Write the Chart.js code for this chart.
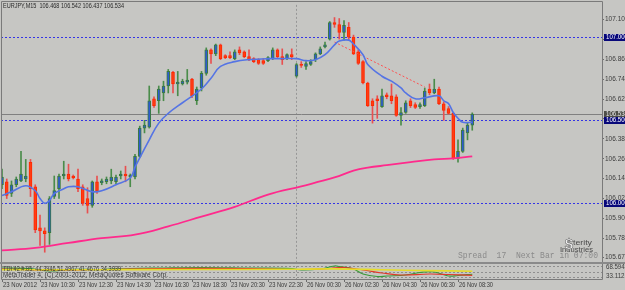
<!DOCTYPE html>
<html><head><meta charset="utf-8">
<script src="https://cdn.jsdelivr.net/npm/chart.js@4.4.1/dist/chart.umd.min.js"></script>
<style>
html,body{margin:0;padding:0;background:#c6c6c3;width:625px;height:290px;overflow:hidden;}
#w{position:relative;width:625px;height:290px;}
#c1{position:absolute;left:0;top:0;}
#c2{position:absolute;left:0;top:262px;}
</style></head><body><div id="w"><canvas id="c1" width="625" height="264"></canvas><canvas id="c2" width="625" height="28"></canvas></div>
<script>
// ---------- DATA ----------
const symbolTitle = 'EURJPY,M15  106.468 106.542 106.437 106.534';
const opens = [106.108,106.126,106.055,106.108,106.131,106.143,106.244,106.096,105.848,105.830,
105.819,106.037,106.084,106.161,106.173,106.161,106.143,106.096,106.025,105.984,
106.126,106.120,106.126,106.131,106.126,106.161,106.173,106.155,106.155,106.279,
106.450,106.456,106.627,106.615,106.662,106.704,106.786,106.716,106.716,106.727,
106.745,106.615,106.692,106.780,106.922,106.898,106.952,106.887,106.887,106.869,
106.922,106.910,106.881,106.869,106.863,106.857,106.857,106.869,106.922,106.881,
106.869,106.893,106.763,106.834,106.822,106.834,106.863,106.898,106.940,106.987,
107.087,107.075,107.028,107.058,106.999,106.910,106.851,106.722,106.615,106.627,
106.580,106.651,106.645,106.639,106.527,106.544,106.615,106.592,106.580,106.586,
106.686,106.662,106.686,106.597,106.568,106.539,106.267,106.309,106.421,106.468];
const highs = [106.202,106.143,106.131,106.155,106.309,106.261,106.261,106.108,105.925,105.848,
106.037,106.161,106.173,106.250,106.232,106.167,106.202,106.108,106.090,106.131,
106.161,106.143,106.155,106.202,106.167,106.191,106.220,106.173,106.291,106.462,
106.497,106.704,106.639,106.704,106.733,106.804,106.792,106.792,106.745,106.804,
106.751,106.698,106.792,106.934,106.928,106.957,106.957,106.893,106.910,106.922,
106.940,106.916,106.922,106.875,106.869,106.869,106.881,106.934,106.928,106.928,
106.898,106.928,106.840,106.851,106.851,106.863,106.904,106.940,106.969,107.093,
107.117,107.111,107.099,107.087,107.011,106.922,106.857,106.727,106.627,106.645,
106.686,106.662,106.716,106.651,106.574,106.615,106.627,106.603,106.603,106.692,
106.716,106.745,106.698,106.609,106.580,106.544,106.379,106.450,106.480,106.542];
const lows = [106.084,106.025,106.037,106.096,106.126,106.126,106.037,105.819,105.742,105.701,
105.748,106.025,106.025,106.143,106.131,106.143,106.067,105.984,105.937,105.972,
106.055,106.108,106.114,106.114,106.114,106.143,106.126,106.096,106.143,106.273,
106.421,106.450,106.574,106.539,106.615,106.662,106.662,106.645,106.710,106.716,
106.633,106.592,106.674,106.769,106.840,106.887,106.863,106.869,106.869,106.863,
106.893,106.875,106.857,106.845,106.834,106.834,106.851,106.863,106.875,106.834,
106.863,106.863,106.757,106.816,106.804,106.828,106.851,106.893,106.934,106.981,
107.058,106.987,106.981,106.981,106.893,106.834,106.716,106.580,106.480,106.509,
106.574,106.627,106.597,106.521,106.468,106.539,106.574,106.568,106.568,106.580,
106.651,106.657,106.592,106.497,106.533,106.261,106.244,106.303,106.379,106.437];
const closes = [106.155,106.043,106.108,106.143,106.173,106.161,106.084,105.836,105.830,105.813,
106.025,106.073,106.161,106.173,106.143,106.149,106.084,105.996,105.984,106.126,
106.073,106.131,106.143,106.155,106.155,106.173,106.161,106.167,106.279,106.450,
106.468,106.615,106.586,106.686,106.704,106.792,106.716,106.727,106.733,106.739,
106.645,106.686,106.780,106.922,106.898,106.952,106.869,106.875,106.875,106.910,
106.904,106.881,106.863,106.851,106.840,106.840,106.875,106.922,106.881,106.863,
106.893,106.881,106.834,106.828,106.840,106.851,106.898,106.928,106.952,107.087,
107.075,107.028,107.070,106.999,106.898,106.840,106.722,106.586,106.586,106.615,
106.645,106.639,106.615,106.527,106.544,106.603,106.586,106.574,106.592,106.674,
106.662,106.686,106.597,106.556,106.539,106.267,106.309,106.438,106.468,106.534];

const fastMaBars   = [0,2,5,7,8,9,10,11,13,14,16,19,21,24,27,28,31,33,35,38,42,44,46,49,52,56,59,62,64,66,68,70,71,73,74,76,77,80,82,84,85,87,89,92,93,94,95,96,97,99];
const fastMaValues = [106.043,106.066,106.102,106.072,106.025,105.996,106.013,106.055,106.084,106.096,106.096,106.066,106.072,106.108,106.149,106.214,106.379,106.480,106.539,106.603,106.686,106.751,106.822,106.851,106.863,106.869,106.869,106.869,106.857,106.863,106.893,106.952,106.975,106.981,106.957,106.893,106.834,106.763,106.733,106.692,106.662,106.627,106.633,106.645,106.615,106.598,106.544,106.509,106.485,106.485];
const slowMaBars   = [0,7,14,21,28,35,42,49,56,63,70,74,77,81,86,91,95,99];
const slowMaValues = [105.712,105.727,105.757,105.786,105.807,105.857,105.916,105.975,106.049,106.099,106.152,106.193,106.211,106.226,106.244,106.261,106.267,106.279];
const trendBars   = [70,89];
const trendValues = [106.969,106.698];

const priceTicks = [107.105,106.985,106.865,106.745,106.625,106.505,106.385,106.265,106.145,106.025,105.905,105.785,105.670];
const levelLines = [107.000,106.500,106.000];
const bidPrice = 106.534;
const daySeparatorBar = 62;

const timeTickBars   = [0,8,16,24,32,40,48,56,64,72,80,88,96];
const timeTickLabels = ['23 Nov 2012','23 Nov 10:30','23 Nov 12:30','23 Nov 14:30','23 Nov 16:30','23 Nov 18:30','23 Nov 20:30','23 Nov 22:30','26 Nov 00:30','26 Nov 02:30','26 Nov 04:30','26 Nov 06:30','26 Nov 08:30'];

const tdiBaseBars   = [0,20,40,60,70,80,90,99];
const tdiBaseValues = [55,55,55.5,56,57,55,53,51.5];
const tdiPriceBars   = [0,6,10,14,21,27,33,42,52,61,63,67,70,71,74,76,79,81,85,88,91,94,96,99];
const tdiPriceValues = [59.1,57.5,52,55.6,55.6,58,59.1,60.3,59.1,58,54.4,56.8,63.9,62.7,56.8,44.9,39,40.2,42.6,48.5,49.7,40.2,41.4,44.4];
const tdiSignalBars   = [0,10,21,33,52,63,69,72,76,80,84,90,94,99];
const tdiSignalValues = [56.8,54.4,55.6,58,58,55.6,58,60.3,54.4,47.3,42.6,44.9,43.7,41.5];
const tdiLevels = [63,50,37];
const subScaleMax = 68.5943, subScaleMin = 33.1121;
const tdiTitle = 'TDI 42 #.85: 44.3946 51.4967 41.4676 34.3939';
const copyrightText = 'MetaTrader 4, (C) 2001-2012, MetaQuotes Software Corp.';
const spreadText = 'Spread  17  Next Bar in 07:00';

// ---------- STYLE / LAYOUT ----------
const X_MIN = -1/4.75, X_MAX = 600/4.75;
const Y_MIN = 105.6594, Y_MAX = 107.1934;
const FONT = 'Liberation Sans';
const bullBody='#2f5ad0', bullEdge='#3b7d3b', bullWick='#4a8c4a';
const bearBody='#ff3c14', bearEdge='#ff2a00', bearWick='#e85050';
const frameColor = '#7a7a7a';

function fitText(ctx, text, x, y, width, font, color) {
  ctx.save();
  ctx.font = font; ctx.fillStyle = color; ctx.textBaseline = 'middle'; ctx.textAlign = 'left';
  const w = ctx.measureText(text).width;
  const s = width ? width / w : 1;
  ctx.translate(x, y); ctx.scale(s, 1);
  ctx.fillText(text, 0, 0);
  ctx.restore();
}
const pts = (bars, vals) => bars.map((b, k) => ({x: b, y: vals[k]}));
const idx = opens.map((_, i) => i);
const bull = idx.map(i => closes[i] >= opens[i]);

const mainDecor = {
  id: 'mainDecor',
  beforeDatasetsDraw(chart) {
    const {ctx, chartArea: a, scales: {x, y}} = chart;
    ctx.save();
    ctx.lineWidth = 1;
    ctx.strokeStyle = '#3434e6'; ctx.setLineDash([2, 2]);
    levelLines.forEach(v => {
      const py = Math.round(y.getPixelForValue(v)) + 0.5;
      ctx.beginPath(); ctx.moveTo(a.left, py); ctx.lineTo(a.right, py); ctx.stroke();
    });
    ctx.strokeStyle = '#979797';
    const sx = Math.round(x.getPixelForValue(daySeparatorBar)) - 0.5;
    ctx.beginPath(); ctx.moveTo(sx, a.top); ctx.lineTo(sx, chart.height); ctx.stroke();
    ctx.setLineDash([]);
    ctx.strokeStyle = '#808080';
    const by = Math.round(y.getPixelForValue(bidPrice)) + 0.5;
    ctx.beginPath(); ctx.moveTo(a.left, by); ctx.lineTo(a.right, by); ctx.stroke();
    ctx.restore();
  },
  afterDraw(chart) {
    const {ctx, chartArea: a, scales: {y}} = chart;
    ctx.save();
    ctx.strokeStyle = frameColor; ctx.lineWidth = 1;
    ctx.beginPath();
    ctx.moveTo(1.5, chart.height); ctx.lineTo(1.5, 1.5); ctx.lineTo(a.right + 0.5, 1.5); ctx.lineTo(a.right + 0.5, chart.height);
    ctx.stroke();
    fitText(ctx, symbolTitle, 3, 6.5, 121, `7px ${FONT}`, '#2a2a2a');
    fitText(ctx, spreadText, 458, 256, 140, '9px Liberation Mono', '#8a8a8a');
    // logo
    fitText(ctx, 'terity', 573, 243.5, 19, `6.5px ${FONT}`, '#4a4a4a');
    fitText(ctx, 'Industries', 560, 250, 33, `6.5px ${FONT}`, '#4a4a4a');
    ctx.font = `bold 15px ${FONT}`; ctx.fillStyle = '#f4f4f4'; ctx.strokeStyle = '#6a6a6a'; ctx.lineWidth = 0.6;
    ctx.textAlign = 'center'; ctx.textBaseline = 'middle';
    ctx.fillText('$', 569, 245); ctx.strokeText('$', 569, 245);
    // price boxes
    const boxes = [
      {v: levelLines[0], bg: '#08087a', fg: '#ffffff'},
      {v: bidPrice, bg: '#4e4e48', fg: '#e8e8e8'},
      {v: levelLines[1], bg: '#08087a', fg: '#ffffff'},
      {v: levelLines[2], bg: '#08087a', fg: '#ffffff'}
    ];
    boxes.forEach(b => {
      const py = y.getPixelForValue(b.v);
      ctx.fillStyle = b.bg;
      ctx.fillRect(a.right + 2, Math.round(py) - 3, 625 - a.right - 2, 7);
      fitText(ctx, b.v.toFixed(3), a.right + 4, Math.round(py) + 0.5, 22, `6.5px ${FONT}`, b.fg);
    });
    ctx.restore();
  }
};

new Chart(document.getElementById('c1'), {
  type: 'bar',
  data: {
    datasets: [
      {type: 'line', data: pts(fastMaBars, fastMaValues), borderColor: '#5574e4', borderWidth: 1.6, pointRadius: 0, tension: 0.4, order: 0},
      {type: 'line', data: pts(trendBars, trendValues), borderColor: '#ff5050', borderWidth: 1, borderDash: [2, 2], pointRadius: 0, order: 0},
      {type: 'line', data: pts(slowMaBars, slowMaValues), borderColor: '#ff2a8c', borderWidth: 1.8, pointRadius: 0, tension: 0.4, order: 1},
      {type: 'bar', data: idx.map(i => ({x: i, y: [lows[i], highs[i]]})), backgroundColor: idx.map(i => bull[i] ? bullWick : bearWick), barThickness: 1, grouped: false, order: 4},
      {type: 'bar', data: idx.map(i => ({x: i, y: [opens[i], closes[i]]})), backgroundColor: idx.map(i => bull[i] ? bullBody : bearBody), borderColor: idx.map(i => bull[i] ? bullEdge : bearEdge), borderWidth: 1, borderSkipped: false, barThickness: 3, minBarLength: 1, grouped: false, order: 3}
    ]
  },
  options: {
    responsive: false, animation: false, devicePixelRatio: 1, events: [],
    layout: {padding: {left: 1, top: 2, right: 0, bottom: 2}},
    plugins: {legend: {display: false}, tooltip: {enabled: false}},
    scales: {
      x: {type: 'linear', min: X_MIN, max: X_MAX, offset: false, display: false},
      y: {type: 'linear', position: 'right', min: Y_MIN, max: Y_MAX,
        afterFit(s) { s.width = 23; },
        afterBuildTicks(s) { s.ticks = priceTicks.map(v => ({value: v})); },
        grid: {drawOnChartArea: false, drawTicks: true, tickLength: 2, color: '#6a6a6a'},
        border: {display: false},
        ticks: {autoSkip: false, padding: 1, font: {family: FONT, size: 6.5}, color: '#3c3c3c', callback: v => Number(v).toFixed(3)}
      }
    }
  },
  plugins: [mainDecor]
});

const subDecor = {
  id: 'subDecor',
  beforeDatasetsDraw(chart) {
    const {ctx, chartArea: a, scales: {x, y}} = chart;
    ctx.save();
    ctx.lineWidth = 1; ctx.strokeStyle = '#8e8e8e'; ctx.setLineDash([2, 2]);
    tdiLevels.forEach(v => {
      const py = Math.round(y.getPixelForValue(v)) + 0.5;
      ctx.beginPath(); ctx.moveTo(a.left, py); ctx.lineTo(a.right, py); ctx.stroke();
    });
    ctx.strokeStyle = '#979797';
    const sx = Math.round(x.getPixelForValue(daySeparatorBar)) - 0.5;
    ctx.beginPath(); ctx.moveTo(sx, 0); ctx.lineTo(sx, a.bottom); ctx.stroke();
    ctx.restore();
  },
  afterDraw(chart) {
    const {ctx, chartArea: a, scales: {x}} = chart;
    ctx.save();
    ctx.fillStyle = '#8a8a8a'; ctx.fillRect(0, 0, 625, 2);
    ctx.strokeStyle = frameColor; ctx.lineWidth = 1;
    ctx.beginPath();
    ctx.moveTo(1.5, 2); ctx.lineTo(1.5, a.bottom + 0.5); ctx.lineTo(a.right + 0.5, a.bottom + 0.5); ctx.lineTo(a.right + 0.5, 2);
    ctx.stroke();
    fitText(ctx, tdiTitle, 3, 7, 118, `6.5px ${FONT}`, '#3a3a3a');
    fitText(ctx, copyrightText, 3, 13.5, 165, `6.5px ${FONT}`, '#3a3a3a');
    fitText(ctx, subScaleMax.toFixed(4), a.right + 4, 5, 22, `6.5px ${FONT}`, '#3c3c3c');
    fitText(ctx, subScaleMin.toFixed(4), a.right + 4, 14, 22, `6.5px ${FONT}`, '#3c3c3c');
    timeTickBars.forEach((b, k) => {
      const px = x.getPixelForValue(b);
      fitText(ctx, timeTickLabels[k], Math.round(px) + 1, 23, 34, `6.5px ${FONT}`, '#3a3a3a');
    });
    ctx.restore();
  }
};

new Chart(document.getElementById('c2'), {
  type: 'line',
  data: {
    datasets: [
      {data: pts(tdiBaseBars, tdiBaseValues), borderColor: '#e6dc2a', borderWidth: 1.6, pointRadius: 0, tension: 0.4},
      {data: pts(tdiSignalBars, tdiSignalValues), borderColor: '#e03a2a', borderWidth: 1.2, pointRadius: 0, tension: 0.4},
      {data: pts(tdiPriceBars, tdiPriceValues), borderColor: '#3a9a3a', borderWidth: 1.2, pointRadius: 0, tension: 0.4}
    ]
  },
  options: {
    responsive: false, animation: false, devicePixelRatio: 1, events: [],
    layout: {padding: {left: 1, top: 2, right: 0, bottom: 0}},
    plugins: {legend: {display: false}, tooltip: {enabled: false}},
    scales: {
      x: {type: 'linear', min: X_MIN, max: X_MAX, offset: false,
        afterFit(s) { s.height = 11; },
        afterBuildTicks(s) { s.ticks = timeTickBars.map(v => ({value: v})); },
        grid: {display: true, drawOnChartArea: false, drawTicks: true, tickLength: 3, color: '#6a6a6a'},
        border: {display: false},
        ticks: {display: false}
      },
      y: {type: 'linear', position: 'right', min: subScaleMin, max: subScaleMax,
        afterFit(s) { s.width = 23; },
        grid: {display: false}, border: {display: false}, ticks: {display: false}
      }
    }
  },
  plugins: [subDecor]
});
</script></body></html>
